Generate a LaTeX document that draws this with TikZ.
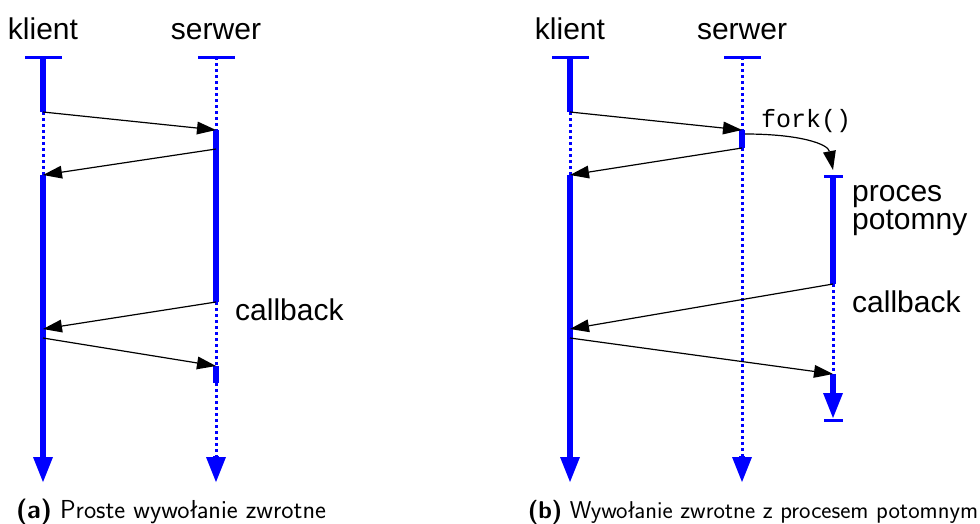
\documentclass[tikz,border=0pt]{standalone}
\usepackage{fontspec}
\setmainfont{Liberation Sans}
\newfontfamily\codefont{Liberation Mono}
\newfontfamily\capfont{Latin Modern Sans}
\usetikzlibrary{arrows.meta}
\definecolor{lifeblue}{RGB}{0,0,255}
\tikzset{
  x=1pt, y=-1pt,
  active/.style={draw=lifeblue, line width=6pt},
  idle/.style={draw=lifeblue, line width=3pt, dash pattern=on 3pt off 3pt},
  endbar/.style={draw=lifeblue, line width=3pt},
  lifeend/.style={draw=lifeblue, line width=6pt, -{Triangle[length=25pt,width=20pt,line width=0pt]}},
  msg/.style={draw=black, line width=1.2pt, -{Triangle[length=19pt,width=13pt,line width=0pt]}},
  lbl/.style={font=\fontsize{30}{32}\selectfont, inner sep=0pt, anchor=base},
  captext/.style={font=\capfont\fontsize{26}{28}\selectfont, inner sep=0pt, anchor=base},
}
\begin{document}
\begin{tikzpicture}
\useasboundingbox (0,0) rectangle (980,523);

% ---------- (a) simple callback ----------
\node[lbl] (ka) at (43,39) {klient};
\node[lbl] (sa) at (216,39) {serwer};

\coordinate (ka0) at (43,57);
\coordinate (ka1) at (43,112);
\coordinate (ka2) at (43,175);
\coordinate (ka3) at (43,329);
\coordinate (ka4) at (43,338);
\coordinate (ka5) at (43,456);
\coordinate (ka6) at (43,482);

\coordinate (sa0) at (216,57);
\coordinate (sa1) at (216,130);
\coordinate (sa2) at (216,149);
\coordinate (sa3) at (216,302);
\coordinate (sa4) at (216,366);
\coordinate (sa5) at (216,383);
\coordinate (sa6) at (216,456);
\coordinate (sa7) at (216,482);

\draw[endbar] (25,57) -- (62,57);
\draw[endbar] (198,57) -- (235,57);

\draw[active] (ka0) -- (ka1);
\draw[idle] (ka1) -- (ka2);
\draw[active] (ka2) -- (ka5);
\draw[lifeend] (ka5) -- (ka6);

\draw[idle] (sa0) -- (sa1);
\draw[active] (sa1) -- (sa3);
\draw[idle] (sa3) -- (sa4);
\draw[active] (sa4) -- (sa5);
\draw[idle] (sa5) -- (sa6);
\draw[lifeend] (sa6) -- (sa7);

\draw[msg] (ka1) -- (sa1);
\draw[msg] (sa2) -- (ka2);
\draw[msg] (sa3) -- (ka3);
\draw[msg] (ka4) -- (sa4);

\node[lbl, anchor=base west] (cba) at (235,320) {callback};
\node[captext] (capa) at (171,518) {\textbf{(a)} Proste wywołanie zwrotne};

% ---------- (b) callback through a child process ----------
\node[lbl] (kb) at (570,39) {klient};
\node[lbl] (sb) at (742,39) {serwer};

\coordinate (kb0) at (570,57);
\coordinate (kb1) at (570,112);
\coordinate (kb2) at (570,175);
\coordinate (kb3) at (570,329);
\coordinate (kb4) at (570,338);
\coordinate (kb5) at (570,456);
\coordinate (kb6) at (570,482);

\coordinate (sb0) at (742,57);
\coordinate (sb1) at (742,130);
\coordinate (sb2) at (742,148);
\coordinate (sb5) at (742,456);
\coordinate (sb6) at (742,482);
\coordinate (fk) at (745,134);

\coordinate (cb0) at (833,176);
\coordinate (cb1) at (833,284);
\coordinate (cb2) at (833,374);
\coordinate (cb3) at (833,393);
\coordinate (cb4) at (833,418);
\coordinate (cbf) at (833,170);

\draw[endbar] (824,176) -- (843,176);
\draw[endbar] (824,420) -- (843,420);
\draw[endbar] (552,57) -- (589,57);
\draw[endbar] (724,57) -- (761,57);

\draw[active] (kb0) -- (kb1);
\draw[idle] (kb1) -- (kb2);
\draw[active] (kb2) -- (kb5);
\draw[lifeend] (kb5) -- (kb6);

\draw[idle] (sb0) -- (sb1);
\draw[active] (sb1) -- (sb2);
\draw[idle] (sb2) -- (sb5);
\draw[lifeend] (sb5) -- (sb6);

\draw[active] (cb0) -- (cb1);
\draw[idle] (cb1) -- (cb2);
\draw[active] (cb2) -- (cb3);
\draw[lifeend] (cb3) -- (cb4);

\draw[msg] (kb1) -- (sb1);
\draw[msg] (sb2) -- (kb2);
\draw[msg] (fk) .. controls (800,134) and (828,144) .. (cbf);
\draw[msg] (cb1) -- (kb3);
\draw[msg] (kb4) -- (cb2);

\node[inner sep=0pt, anchor=base west, font=\codefont\fontsize{25}{27}\selectfont] (fork) at (761,127) {fork()};
\node[lbl, anchor=base west] (proc1) at (852,201) {proces};
\node[lbl, anchor=base west] (proc2) at (852,229) {potomny};
\node[lbl, anchor=base west] (cbb) at (852,312) {callback};
\node[captext, font=\capfont\fontsize{24.3}{27}\selectfont] (capb) at (753,518) {\textbf{(b)} Wywołanie zwrotne z procesem potomnym};
\end{tikzpicture}
\end{document}
